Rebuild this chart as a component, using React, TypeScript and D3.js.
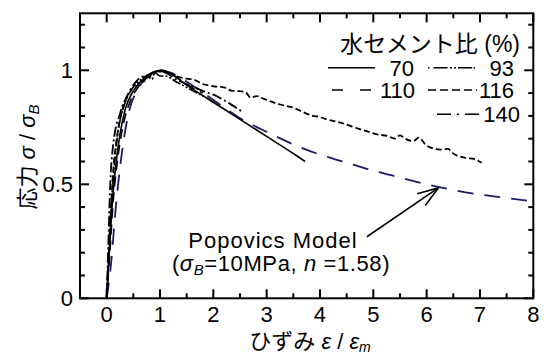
import React from "react";
import * as d3 from "d3";

// ---- data ----
const xMajor = [0, 1, 2, 3, 4, 5, 6, 7, 8];
const xMinor = [0.5, 1.5, 2.5, 3.5, 4.5, 5.5, 6.5, 7.5];
const yMajor = [0, 0.5, 1];
const yMajorLabels = ["0", "0.5", "1"];
const yMinor = [0.1, 0.2, 0.3, 0.4, 0.6, 0.7, 0.8, 0.9, 1.1, 1.2];

const wc70: [number, number][] = [
  [0, 0], [0.05, 0.2], [0.1, 0.4], [0.17, 0.58], [0.25, 0.72], [0.35, 0.83], [0.5, 0.91],
  [0.7, 0.965], [0.9, 0.995], [1.05, 1.0], [1.2, 0.985], [1.5, 0.935], [2.0, 0.86],
  [2.5, 0.785], [3.0, 0.71], [3.5, 0.635], [3.72, 0.6],
];
const wc93: [number, number][] = [
  [0, 0], [0.04, 0.2], [0.09, 0.42], [0.15, 0.6], [0.22, 0.74], [0.32, 0.84], [0.45, 0.91],
  [0.6, 0.95], [0.75, 0.975], [0.85, 0.96], [0.9, 0.99], [1.0, 0.975], [1.1, 0.975],
  [1.3, 0.95], [1.5, 0.925], [1.7, 0.9], [1.9, 0.875], [2.0, 0.86],
];
const wc110: [number, number][] = [
  [0, 0], [0.06, 0.2], [0.12, 0.42], [0.2, 0.6], [0.3, 0.75], [0.42, 0.85], [0.6, 0.93],
  [0.8, 0.975], [1.0, 0.995], [1.2, 0.985], [1.4, 0.955], [1.6, 0.925], [1.8, 0.9],
];
const wc116: [number, number][] = [
  [0, 0], [0.03, 0.15], [0.07, 0.35], [0.12, 0.55], [0.2, 0.72], [0.3, 0.83], [0.45, 0.91],
  [0.6, 0.955], [0.7, 0.95], [0.75, 0.975], [0.85, 0.97], [0.9, 0.99], [1.0, 1.0],
  [1.15, 0.99], [1.3, 0.975], [1.45, 0.965], [1.62, 0.96], [1.8, 0.94], [2.0, 0.93],
  [2.2, 0.925], [2.35, 0.91], [2.47, 0.909], [2.6, 0.905], [2.7, 0.88], [2.81, 0.887],
  [2.95, 0.875], [3.06, 0.865], [3.25, 0.85], [3.5, 0.836], [3.65, 0.82], [3.87, 0.8],
  [4.0, 0.795], [4.12, 0.785], [4.3, 0.775], [4.5, 0.762], [4.7, 0.745], [4.875, 0.733],
  [5.05, 0.72], [5.28, 0.711], [5.4, 0.7], [5.5, 0.715], [5.6, 0.7], [5.75, 0.689],
  [5.85, 0.705], [6.0, 0.67], [6.25, 0.652], [6.4, 0.655], [6.5, 0.635], [6.72, 0.616],
  [6.9, 0.61], [7.03, 0.594],
];
const wc140: [number, number][] = [
  [0, 0], [0.03, 0.227], [0.06, 0.46], [0.125, 0.68], [0.25, 0.81], [0.41, 0.9],
  [0.59, 0.96], [0.78, 0.98], [0.95, 0.995], [1.1, 0.99], [1.3, 0.96], [1.6, 0.93],
  [1.8, 0.91], [2.06, 0.887], [2.3, 0.855], [2.53, 0.82],
];
const popovics: [number, number][] = [
  [0, 0], [0.09, 0.17], [0.156, 0.36], [0.22, 0.51], [0.31, 0.68], [0.41, 0.81],
  [0.59, 0.92], [0.78, 0.975], [1.0, 1.0], [1.2, 0.99], [1.5, 0.95], [2.0, 0.87],
  [2.5, 0.79], [3.0, 0.73], [3.5, 0.675], [4.0, 0.63], [4.5, 0.595], [5.0, 0.56],
  [5.5, 0.53], [6.0, 0.5], [6.5, 0.475], [7.0, 0.455], [7.5, 0.44], [8.0, 0.425],
];

const legendTitle = "水セメント比";
const legendLabels = ["70", "93", "110", "116", "140"];
const arrowTip: [number, number] = [6.22, 0.484];
const arrowTail: [number, number] = [4.88, 0.27];

const FONT = "'Liberation Sans', Arial, 'Noto Sans CJK JP', sans-serif";
const NAVY = "#1b1b6a";

export default function App() {
  const W = 544, H = 356;
  const x = d3.scaleLinear().domain([-0.5, 8]).range([80, 533.3]);
  const y = d3.scaleLinear().domain([0, 1.25]).range([298.3, 13.3]);
  const line = d3.line<[number, number]>().x(d => x(d[0])).y(d => y(d[1])).curve(d3.curveMonotoneX);
  const [x0, x1] = x.range();
  const [yb, yt] = y.range();

  const series = [
    { d: wc70, dash: undefined as string | undefined, color: "#000", w: 1.6 },
    { d: wc93, dash: "9,2,2,2,2,2", color: "#000", w: 1.6 },
    { d: wc110, dash: "10,6", color: "#000", w: 1.6 },
    { d: wc116, dash: "6,3", color: "#000", w: 1.8 },
    { d: wc140, dash: "10,3,2,3", color: "#000", w: 1.8 },
  ];

  const tx = x(arrowTip[0]), ty = y(arrowTip[1]);
  const sx = x(arrowTail[0]), sy = y(arrowTail[1]);
  const ang = Math.atan2(ty - sy, tx - sx);
  const hl = 22, ha = 0.33;
  const b1 = [tx - hl * Math.cos(ang - ha), ty - hl * Math.sin(ang - ha)];
  const b2 = [tx - hl * Math.cos(ang + ha), ty - hl * Math.sin(ang + ha)];

  const Major = 9, Minor = 5;

  return (
    <svg width={W} height={H} style={{ position: "absolute", left: 0, top: 0, background: "#fff" }}
      fontFamily={FONT}>
      <rect width={W} height={H} fill="#fff" />
      {/* curves */}
      <path d={line(popovics) || ""} fill="none" stroke={NAVY} strokeWidth={1.8} strokeDasharray="16,11" />
      {series.map((s, i) => (
        <path key={i} d={line(s.d) || ""} fill="none" stroke={s.color} strokeWidth={s.w}
          strokeDasharray={s.dash} />
      ))}
      {/* frame */}
      <rect x={x0} y={yt} width={x1 - x0} height={yb - yt} fill="none" stroke="#000" strokeWidth={2} />
      {/* ticks */}
      {xMajor.map(v => (
        <g key={"xm" + v}>
          <line x1={x(v)} x2={x(v)} y1={yb} y2={yb - Major} stroke="#000" strokeWidth={2} />
          <line x1={x(v)} x2={x(v)} y1={yt} y2={yt + Major} stroke="#000" strokeWidth={2} />
          <text x={x(v)} y={322} textAnchor="middle" fontSize={22}>{v}</text>
        </g>
      ))}
      {xMinor.map(v => (
        <g key={"xn" + v}>
          <line x1={x(v)} x2={x(v)} y1={yb} y2={yb - Minor} stroke="#000" strokeWidth={2} />
          <line x1={x(v)} x2={x(v)} y1={yt} y2={yt + Minor} stroke="#000" strokeWidth={2} />
        </g>
      ))}
      {yMajor.map((v, i) => (
        <g key={"ym" + v}>
          <line x1={x0} x2={x0 + Major} y1={y(v)} y2={y(v)} stroke="#000" strokeWidth={2} />
          <line x1={x1} x2={x1 - Major} y1={y(v)} y2={y(v)} stroke="#000" strokeWidth={2} />
          <text x={73} y={y(v) + 8} textAnchor="end" fontSize={22}>{yMajorLabels[i]}</text>
        </g>
      ))}
      {yMinor.map(v => (
        <g key={"yn" + v}>
          <line x1={x0} x2={x0 + Minor} y1={y(v)} y2={y(v)} stroke="#000" strokeWidth={2} />
          <line x1={x1} x2={x1 - Minor} y1={y(v)} y2={y(v)} stroke="#000" strokeWidth={2} />
        </g>
      ))}
      {/* axis titles */}
      <text x={310} y={349} textAnchor="middle" fontSize={22}>
        ひずみ <tspan fontStyle="italic">ε</tspan> / <tspan fontStyle="italic">ε</tspan>
        <tspan fontStyle="italic" fontSize={14} dy={3}>m</tspan>
      </text>
      <text transform="translate(35,157) rotate(-90)" textAnchor="middle" fontSize={22}>
        応力 <tspan fontStyle="italic">σ</tspan> / <tspan fontStyle="italic">σ</tspan>
        <tspan fontStyle="italic" fontSize={15} dy={4}>B</tspan>
      </text>
      {/* legend */}
      <text x={520} y={52} textAnchor="end" fontSize={23}>{legendTitle} (%)</text>
      <line x1={328} x2={375} y1={67.7} y2={67.7} stroke="#000" strokeWidth={1.6} />
      <text x={414} y={76} textAnchor="end" fontSize={22}>{legendLabels[0]}</text>
      <line x1={428} x2={475} y1={67.7} y2={67.7} stroke="#000" strokeWidth={1.6} strokeDasharray="1.5,4,14,2.5,2,2,2,2,14" />
      <text x={514} y={76} textAnchor="end" fontSize={22}>{legendLabels[1]}</text>
      <line x1={332} x2={376} y1={90} y2={90} stroke="#000" strokeWidth={1.6} strokeDasharray="11,17" />
      <text x={415} y={98} textAnchor="end" fontSize={22}>{legendLabels[2]}</text>
      <line x1={428} x2={477} y1={90} y2={90} stroke="#000" strokeWidth={1.6} strokeDasharray="8,4" />
      <text x={514} y={98} textAnchor="end" fontSize={22}>{legendLabels[3]}</text>
      <line x1={437} x2={482} y1={114.3} y2={114.3} stroke="#000" strokeWidth={1.6} strokeDasharray="14,6,2,6" />
      <text x={520} y={122} textAnchor="end" fontSize={22}>{legendLabels[4]}</text>
      {/* annotation */}
      <line x1={sx} y1={sy} x2={tx} y2={ty} stroke="#000" strokeWidth={1.6} />
      <polyline points={`${b1[0]},${b1[1]} ${tx},${ty} ${b2[0]},${b2[1]}`} fill="none" stroke="#000" strokeWidth={1.6} />
      <text x={273} y={248} textAnchor="middle" fontSize={22} letterSpacing={1}>Popovics Model</text>
      <text x={281} y={271} textAnchor="middle" fontSize={22} letterSpacing={0.6}>
        (<tspan fontStyle="italic">σ</tspan><tspan fontStyle="italic" fontSize={15} dy={4}>B</tspan>
        <tspan dy={-4}>=10MPa, </tspan><tspan fontStyle="italic">n</tspan> =1.58)
      </text>
    </svg>
  );
}
